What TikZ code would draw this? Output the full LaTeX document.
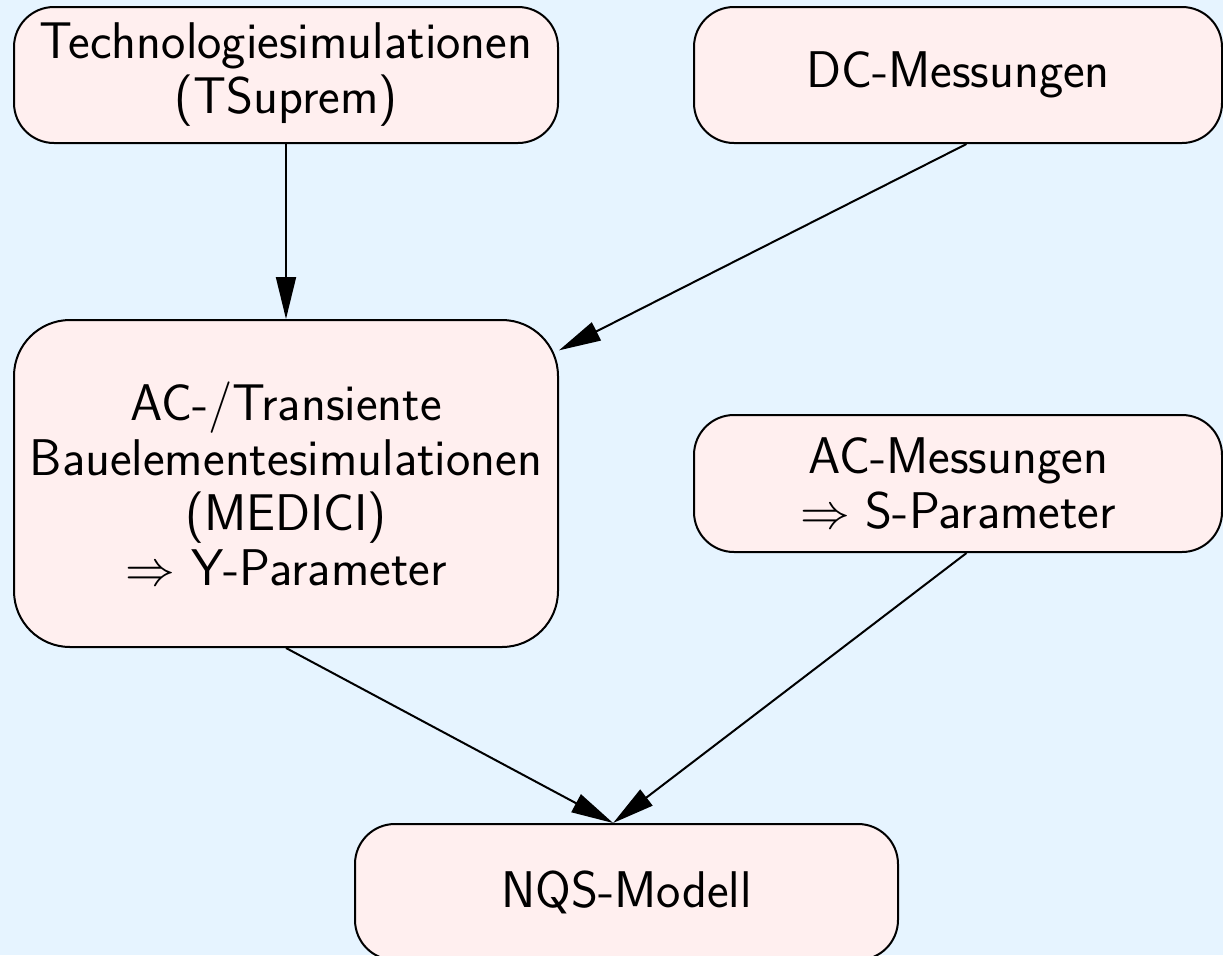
\documentclass[tikz,border=0pt]{standalone}
\usepackage{fontspec}
\usepackage{tikz}
\usetikzlibrary{arrows.meta}
\definecolor{bgblue}{RGB}{230,244,255}
\definecolor{boxpink}{RGB}{255,239,239}

\begin{document}
\begin{tikzpicture}[
    x=0.5pt,y=-0.5pt,
    box/.style={rectangle,draw,line width=1pt,fill=boxpink,rounded corners=20pt,align=center,
      inner sep=0pt,font=\sffamily\fontsize{25.8}{27.5}\selectfont},
    flow/.style={-{Triangle[length=21pt,width=10pt]},line width=1pt}]
    \useasboundingbox (0,0) rectangle (1223,955);
    \fill[bgblue] (0,0) rectangle (1223,955);
    \node[box,minimum width=272pt,minimum height=68pt] (tsup) at (286,75) {Technologiesimulationen\\(TSuprem)};
    \node[box,minimum width=264pt,minimum height=68pt] (dcm) at (958,75) {DC-Messungen};
    \node[box,minimum width=272pt,minimum height=163.5pt,rounded corners=28pt] (medici) at (286,483.5)
      {AC-/Transiente\\Bauelementesimulationen\\(MEDICI)\\$\Rightarrow$ Y-Parameter};
    \node[box,minimum width=264pt,minimum height=68.5pt] (acm) at (958,483.5) {AC-Messungen\\$\Rightarrow$ S-Parameter};
    \node[box,minimum width=271.5pt,minimum height=68pt] (nqs) at (626.5,892) {NQS-Modell};
    % edges
    \draw[flow] (tsup.south) -- (medici.north);
    \draw[flow] (dcm.-83) -- (medici.26);
    \draw[flow] (medici.south) -- (nqs.101.6);
    \draw[flow] (acm.-83) -- (nqs.101.6);
\end{tikzpicture}
\end{document}
